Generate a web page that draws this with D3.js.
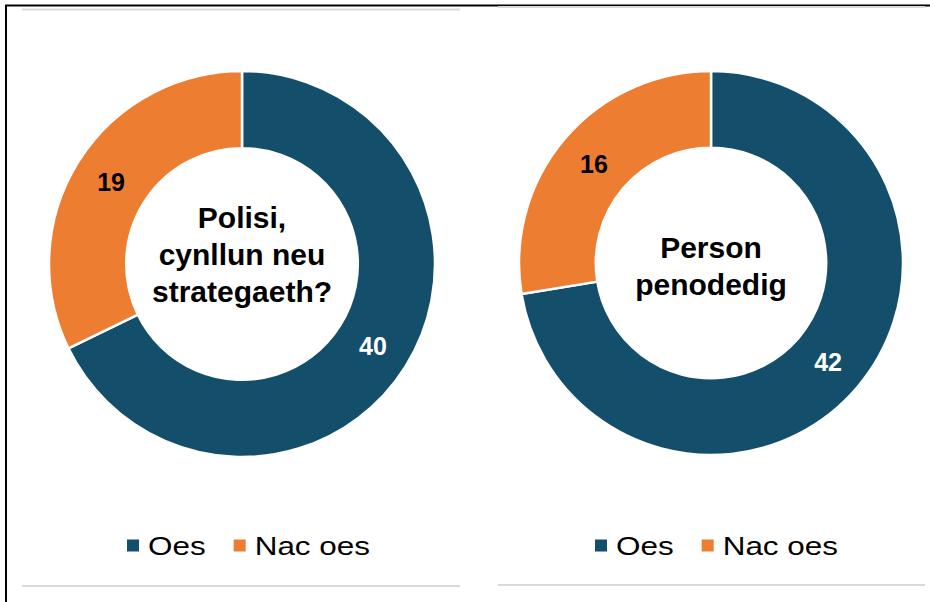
<!DOCTYPE html>
<html><head><meta charset="utf-8">
<script src="https://cdn.jsdelivr.net/npm/d3@7"></script>
<style>html,body{margin:0;padding:0;background:#fff;}svg{display:block;}</style>
</head><body>
<svg id="c" width="930" height="602"></svg>
<script>
const categories = ["Oes", "Nac oes"];
const chart1Values = [40, 19];
const chart2Values = [42, 16];
const chart1Title = ["Polisi,", "cynllun neu", "strategaeth?"];
const chart2Title = ["Person", "penodedig"];
const colors = ["#134f6a", "#ed7d31"];

const svg = d3.select("#c");
const font = "'Liberation Sans', Arial, sans-serif";

// frame lines
svg.append("line").attr("x1",6).attr("x2",6).attr("y1",5).attr("y2",602).attr("stroke","#000").attr("stroke-width",2);
svg.append("line").attr("x1",5).attr("x2",930).attr("y1",5.5).attr("y2",5.5).attr("stroke","#000").attr("stroke-width",2);
// grey panel lines
const grey = "#d9d9d9";
[[22,460,9.5],[498,925,7],[22,460,586],[498,925,585]].forEach(([a,b,y])=>{
  svg.append("line").attr("x1",a).attr("x2",b).attr("y1",y).attr("y2",y).attr("stroke",grey).attr("stroke-width",2);
});

const color = d3.scaleOrdinal().domain(categories).range(colors);

function donut(cx, cy, R, values, title, titleY, legendX) {
  const g = svg.append("g").attr("transform", `translate(${cx},${cy})`);
  const data = categories.map((c,i)=>({cat:c, value:values[i]}));
  const pie = d3.pie().value(d=>d.value).sort(null);
  const r0 = R*0.6;
  const arc = d3.arc().innerRadius(r0).outerRadius(R);
  const arcs = pie(data);
  g.selectAll("path").data(arcs).join("path")
    .attr("d", arc).attr("fill", d=>color(d.data.cat))
    .attr("stroke","#fff").attr("stroke-width",2.5).attr("stroke-linejoin","round");
  const labelArc = d3.arc().innerRadius((R+r0)/2).outerRadius((R+r0)/2);
  g.selectAll("text.lbl").data(arcs).join("text").attr("class","lbl")
    .attr("transform", d=>`translate(${labelArc.centroid(d)})`)
    .attr("text-anchor","middle").attr("dy","0.36em")
    .attr("font-family",font).attr("font-weight","bold").attr("font-size",25)
    .attr("fill", (d,i)=> i===0 ? "#fff" : "#000")
    .text(d=>d.data.value);
  const t = g.append("text").attr("text-anchor","middle")
    .attr("font-family",font).attr("font-weight","bold").attr("font-size",30).attr("fill","#000");
  title.forEach((line,i)=>{
    t.append("tspan").attr("x",0).attr("y", titleY + i*37).text(line);
  });
  // legend
  const lg = svg.append("g").attr("transform", `translate(${legendX},545.5)`);
  let x = 0;
  const sx = 1.21;
  categories.forEach((c,i)=>{
    lg.append("rect").attr("x",x).attr("y",-6).attr("width",12).attr("height",12).attr("fill",color(c));
    const tx = lg.append("text")
      .attr("transform", `translate(${x+21},0) scale(${sx},1)`)
      .attr("dy","0.35em")
      .attr("font-family",font).attr("font-size",26).attr("fill","#000").text(c);
    x += 21 + tx.node().getComputedTextLength()*sx + 28;
  });
}

donut(242, 264, 193, chart1Values, chart1Title, -36, 127);
donut(711, 263, 192, chart2Values, chart2Title, -5, 595);
</script>
</body></html>
